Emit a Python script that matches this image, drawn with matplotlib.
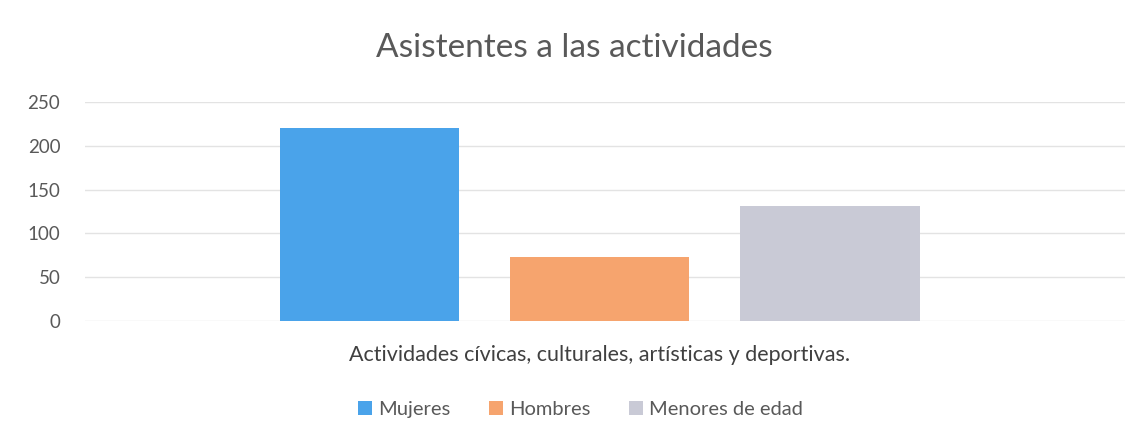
import numpy as np
import matplotlib.pyplot as plt
from matplotlib.patches import Patch

plt.rcParams['font.family'] = ['Lato', 'DejaVu Sans']

# data
series = ['Mujeres', 'Hombres', 'Menores de edad']
values = [220, 73, 131]
colors = ['#4aa3ea', '#f6a46e', '#c9cad6']
category = 'Actividades cívicas, culturales, artísticas y deportivas.'
yticks = [0, 50, 100, 150, 200, 250]

fig = plt.figure(figsize=(11.38, 4.38), dpi=100)
ax = fig.add_axes([0.075, 0.267, 0.914, 0.5])

x = np.arange(len(series)) - 1
ax.bar(x, values, width=0.78, color=colors, zorder=3)

ax.set_xlim(-2.235, 2.285)
ax.set_ylim(0, 250)
ax.set_yticks(yticks)
ax.set_xticks([])
ax.grid(axis='y', color='#e3e3e3', linewidth=1, zorder=0)
for s in ax.spines.values():
    s.set_visible(False)
ax.tick_params(axis='y', length=0, labelsize=13.5, labelcolor='#595959', pad=18)

fig.text(0.505, 0.89, 'Asistentes a las actividades', ha='center', va='center',
         fontsize=24, color='#595959')
fig.text(0.527, 0.19, category, ha='center', va='center', fontsize=15.5, color='#404040')

handles = [Patch(facecolor=c, edgecolor='none') for c in colors]
fig.legend(handles, series, loc='center', bbox_to_anchor=(0.51, 0.066), ncol=3,
           frameon=False, fontsize=14.5, handlelength=0.7, handleheight=0.7,
           handletextpad=0.3, columnspacing=1.9, labelcolor='#595959')

fig.savefig('out.png', dpi=100)
